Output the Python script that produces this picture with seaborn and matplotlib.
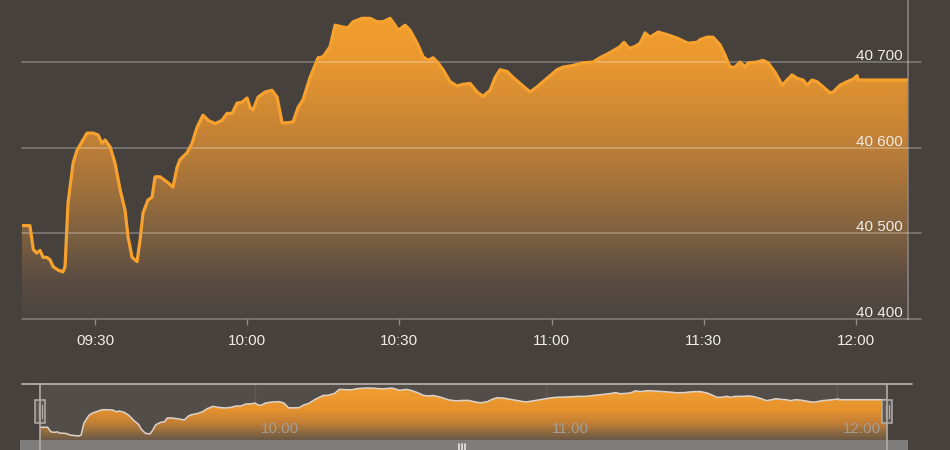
import numpy as np
import pandas as pd
import matplotlib
matplotlib.use("Agg")
import matplotlib.pyplot as plt
import matplotlib.dates as mdates
import matplotlib.transforms as mtrans
from matplotlib.colors import LinearSegmentedColormap
from matplotlib.lines import Line2D
from matplotlib.patches import Rectangle
import seaborn as sns

# ---------------- data ----------------
times = [
    "09:15:36", "09:17:10", "09:17:50", "09:18:30", "09:19:10", "09:19:45", "09:20:30", "09:21:08",
    "09:21:45", "09:22:45", "09:23:40", "09:24:05", "09:24:40", "09:25:40", "09:26:27", "09:27:38",
    "09:28:25", "09:29:37", "09:30:35", "09:31:23", "09:31:58", "09:32:58", "09:33:56", "09:34:56",
    "09:35:55", "09:36:30", "09:37:18", "09:38:17", "09:38:52", "09:39:28", "09:40:27", "09:41:14",
    "09:41:50", "09:42:49", "09:44:11", "09:45:22", "09:46:10", "09:46:45", "09:48:08", "09:49:07",
    "09:50:07", "09:51:17", "09:52:17", "09:53:40", "09:55:02", "09:56:01", "09:57:01", "09:58:00",
    "09:58:59", "09:59:58", "10:00:34", "10:01:09", "10:02:08", "10:03:31", "10:04:53", "10:05:53",
    "10:06:52", "10:07:51", "10:09:02", "10:10:01", "10:11:00", "10:12:23", "10:13:58", "10:14:56",
    "10:16:20", "10:17:19", "10:18:41", "10:19:52", "10:20:52", "10:22:38", "10:24:13", "10:25:35",
    "10:26:46", "10:28:09", "10:29:08", "10:29:44", "10:31:07", "10:32:06", "10:33:29", "10:34:40",
    "10:35:39", "10:36:38", "10:37:37", "10:38:36", "10:39:59", "10:41:22", "10:42:33", "10:43:56",
    "10:45:19", "10:46:29", "10:47:52", "10:48:52", "10:49:50", "10:51:13", "10:52:24", "10:53:47",
    "10:55:45", "10:57:08", "10:59:06", "11:01:04", "11:02:15", "11:04:13", "11:06:11", "11:08:10",
    "11:09:32", "11:11:31", "11:13:29", "11:14:16", "11:15:16", "11:16:26", "11:17:26", "11:18:25",
    "11:19:24", "11:20:59", "11:22:45", "11:24:43", "11:26:53", "11:28:40", "11:29:15", "11:30:38",
    "11:31:49", "11:33:12", "11:34:11", "11:35:10", "11:36:10", "11:37:09", "11:38:08", "11:38:43",
    "11:40:30", "11:41:41", "11:42:40", "11:44:03", "11:45:26", "11:46:25", "11:47:24", "11:48:23",
    "11:49:34", "11:50:21", "11:51:20", "11:52:20", "11:53:19", "11:54:53", "11:55:29", "11:56:52",
    "11:58:14", "11:59:25", "12:00:13", "12:00:25", "12:10:15",
]
values = [
    40509, 40509, 40481, 40477, 40480, 40472, 40472, 40469,
    40461, 40457, 40455, 40461, 40535, 40582, 40597, 40609,
    40617, 40617, 40615, 40605, 40609, 40601, 40582, 40551,
    40527, 40496, 40472, 40467, 40492, 40524, 40539, 40542,
    40566, 40566, 40560, 40554, 40577, 40586, 40594, 40605,
    40624, 40638, 40632, 40628, 40632, 40640, 40640, 40652,
    40653, 40658, 40647, 40644, 40659, 40665, 40667, 40659,
    40629, 40629, 40630, 40647, 40656, 40682, 40705, 40706,
    40718, 40743, 40741, 40740, 40747, 40751, 40751, 40747,
    40747, 40751, 40743, 40737, 40743, 40737, 40722, 40706,
    40702, 40705, 40699, 40691, 40677, 40672, 40674, 40675,
    40665, 40660, 40667, 40682, 40691, 40689, 40682, 40675,
    40665, 40671, 40681, 40691, 40694, 40696, 40699, 40700,
    40705, 40711, 40718, 40723, 40716, 40718, 40722, 40734,
    40729, 40735, 40732, 40728, 40722, 40723, 40726, 40729,
    40729, 40720, 40708, 40694, 40694, 40700, 40694, 40699,
    40700, 40702, 40699, 40688, 40673, 40679, 40685, 40681,
    40679, 40673, 40679, 40677, 40672, 40664, 40665, 40673,
    40677, 40680, 40684, 40679, 40679,
]
y_ticks = [40400, 40500, 40600, 40700]
y_tick_labels = ["40 400", "40 500", "40 600", "40 700"]
x_tick_labels = ["09:30", "10:00", "10:30", "11:00", "11:30", "12:00"]
nav_tick_labels = ["10:00", "11:00", "12:00"]

DAY = "2019-12-03 "
df = pd.DataFrame({"time": pd.to_datetime([DAY + t for t in times]), "value": values})
x_tick_pos = pd.to_datetime([DAY + t for t in x_tick_labels])
nav_tick_pos = pd.to_datetime([DAY + t for t in nav_tick_labels])

# ---------------- style ----------------
sns.set_theme(style="dark")
plt.rcParams["font.family"] = ["Liberation Sans", "DejaVu Sans"]
BG = "#46413c"
W, H = 950, 450
fig = plt.figure(figsize=(9.5, 4.5), dpi=100, facecolor=BG)


def rect(x0, y0, x1, y1):
    return [x0 / W, 1 - y1 / H, (x1 - x0) / W, (y1 - y0) / H]


xn = mdates.date2num(df["time"])
x_lo, x_hi = xn[0], xn[-1]

# ---------------- main chart ----------------
ax = fig.add_axes(rect(22, 0, 908, 319))
ax.set_facecolor(BG)
y_lo, y_hi = 40400, 40772.4

cmap_main = LinearSegmentedColormap.from_list(
    "main", [(0.0, "#4a4440"), (0.12, "#5b4c42"), (0.27, "#7e6140"),
             (0.44, "#a8743a"), (0.62, "#cc8634"), (0.82, "#ea992f"), (1.0, "#f6a12e")])
poly = ax.fill_between(xn, df["value"], y_lo, color="none", lw=0)
grad = np.linspace(0, 1, 256).reshape(-1, 1)
im = ax.imshow(grad, cmap=cmap_main, aspect="auto", origin="lower",
               extent=[x_lo, x_hi, y_lo, y_hi], zorder=1, interpolation="bilinear")
im.set_clip_path(poly.get_paths()[0], transform=ax.transData)

sns.lineplot(data=df, x="time", y="value", ax=ax, color="#f7a12e", lw=2.3,
             zorder=4, legend=False)

grid_ext = (921 - 22) / (908 - 22)
for v in y_ticks:
    ax.axhline(v, xmin=0, xmax=grid_ext, color="white", alpha=0.32, lw=1.1,
               clip_on=False, zorder=3)

for s in ["top", "left", "bottom"]:
    ax.spines[s].set_visible(False)
ax.spines["right"].set_visible(True)
ax.spines["right"].set_color("#8c8782")
ax.spines["right"].set_linewidth(1.1)

ax.set_xlim(x_lo, x_hi)
ax.set_ylim(y_lo, y_hi)
ax.set_xticks(x_tick_pos, x_tick_labels)
ax.tick_params(axis="x", length=4.5, width=1, color="#8c8782", labelcolor="#f0ece8",
               labelsize=11, pad=6, direction="out", bottom=True)
ax.set_yticks([])
ax.set_xlabel("")
ax.set_ylabel("")
ax.grid(False)

lab_tr = mtrans.offset_copy(ax.get_yaxis_transform(), fig=fig, x=-5, y=2, units="dots")
for v, lab in zip(y_ticks, y_tick_labels):
    ax.text(1.0, v, lab, transform=lab_tr, ha="right", va="baseline",
            color="#f0ece8", fontsize=11, zorder=6)

# ---------------- navigator ----------------
nav = fig.add_axes(rect(40, 384, 887, 440))
nav.set_facecolor("#524d48")
n_lo, n_hi = 40430, 40776
cmap_nav = LinearSegmentedColormap.from_list(
    "nav", [(0.0, "#6a5848"), (0.12, "#8a6840"), (0.3, "#c27e35"),
            (0.55, "#e6932e"), (1.0, "#f4a030")])
npoly = nav.fill_between(xn, df["value"], n_lo, color="none", lw=0)
nim = nav.imshow(grad, cmap=cmap_nav, aspect="auto", origin="lower",
                 extent=[x_lo, x_hi, n_lo, n_hi], zorder=1, interpolation="bilinear")
nim.set_clip_path(npoly.get_paths()[0], transform=nav.transData)
sns.lineplot(data=df, x="time", y="value", ax=nav, color="#ddd2ca", lw=1.1,
             zorder=3, legend=False)
for t in nav_tick_pos:
    nav.axvline(t, color="#615b56", lw=1, zorder=0.5)
nlab_tr = mtrans.offset_copy(nav.get_xaxis_transform(), fig=fig, x=6, y=0, units="dots")
for t, lab in zip(nav_tick_pos, nav_tick_labels):
    nav.text(t, 0.2, lab, transform=nlab_tr, ha="left", va="center",
             color="#a39d97", fontsize=11, zorder=5)
nav.set_xlim(x_lo, x_hi)
nav.set_ylim(n_lo, n_hi)
nav.set_xticks([])
nav.set_yticks([])
nav.set_xlabel("")
nav.set_ylabel("")
for s in nav.spines.values():
    s.set_visible(False)

# navigator frame, handles and scrollbar
OUT = "#b3ada8"
fig.add_artist(Rectangle((20 / W, 1 - 450 / H), (908 - 20) / W, 10 / H,
                         transform=fig.transFigure, facecolor="#7f7c7c", edgecolor="none"))
fig.add_artist(Line2D([22 / W, 912 / W], [1 - 384 / H] * 2, color=OUT, lw=1.3))
for hx in (40, 887):
    fig.add_artist(Line2D([hx / W, hx / W], [1 - 384 / H, 0], color=OUT, lw=1.2))
    fig.add_artist(Rectangle(((hx - 5) / W, 1 - 423 / H), 10 / W, 23 / H,
                             transform=fig.transFigure, facecolor="#5d5853",
                             edgecolor=OUT, lw=1.1))
    for dx in (-1.5, 1.5):
        fig.add_artist(Line2D([(hx + dx) / W] * 2, [1 - 405 / H, 1 - 418 / H],
                              color=OUT, lw=0.9))
for gx in (459, 462, 465):
    fig.add_artist(Line2D([gx / W] * 2, [1 - 444 / H, 1 - 450 / H], color="#e6e6e6", lw=1.2))

fig.savefig("out.png", dpi=100, facecolor=BG)
